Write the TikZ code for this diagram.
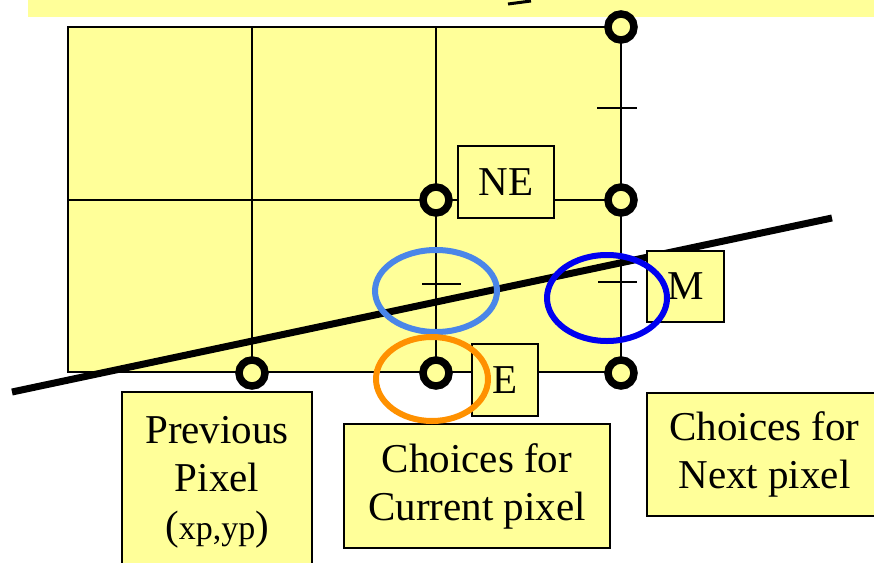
\documentclass[tikz,border=0pt]{standalone}
\usepackage{fontspec}
\setmainfont{Liberation Serif}
\definecolor{yel}{RGB}{255,255,153}
\definecolor{lblue}{RGB}{74,134,232}
\definecolor{dblue}{RGB}{0,0,240}
\definecolor{orng}{RGB}{255,145,0}
\begin{document}
\begin{tikzpicture}[x=1pt,y=-1pt,
  lbl/.style={draw, fill=yel, line width=1.5pt, inner sep=0pt, align=center, font=\fontsize{41}{48}\selectfont},
  dotnode/.style={circle, draw, fill=yel, line width=7.5pt, minimum size=26pt, inner sep=0pt},
  gridline/.style={line width=1.5pt},
  tickmark/.style={line width=1.5pt},
  ring/.style={line width=6pt}]
\useasboundingbox (0,0) rectangle (874,562);
\fill[white] (0,0) rectangle (874,562);
% title banner (cut off)
\fill[yel] (28,0) rectangle (874,17);
\draw[line width=3pt] (508,4) -- (531,1);
% pixel grid
\fill[yel] (68,27) rectangle (621,372);
\draw[gridline] (68,27) rectangle (621,372);
\draw[gridline] (252,27) -- (252,372);
\draw[gridline] (436,27) -- (436,372);
\draw[gridline] (68,200) -- (621,200);
% tick marks (midpoints)
\draw[tickmark] (597,108) -- (637,108);
\draw[tickmark] (422,284) -- (461,284);
\draw[tickmark] (598,282) -- (637,282);
% the line
\coordinate (la) at (12,392);
\coordinate (lb) at (832,218);
\draw[line width=7pt] (la) -- (lb);
% pixel circles
\node[dotnode] (c1) at (621,27) {};
\node[dotnode] (c2) at (436,200) {};
\node[dotnode] (c3) at (621,200) {};
\node[dotnode] (c4) at (252,373) {};
\node[dotnode] (c5) at (436,373) {};
\node[dotnode] (c6) at (621,373) {};
% labels
\node[lbl, minimum width=96pt, minimum height=72pt] (ne) at (506,182) {NE};
\node[lbl, minimum width=77pt, minimum height=71pt] (m) at (685.5,286.5) {M};
\node[lbl, minimum width=66pt, minimum height=72pt] (e) at (505,380) {E};
\node[lbl, minimum width=190pt, minimum height=180pt] (prev) at (217,482) {Previous\\Pixel\\({\fontsize{34}{40}\selectfont xp,yp})};
\node[lbl, minimum width=266pt, minimum height=124pt] (cur) at (477,486) {Choices for\\Current pixel};
\node[lbl, minimum width=235pt, minimum height=123pt] (next) at (764.5,454.5) {Choices for\\Next pixel};
% highlight ellipses
\draw[lblue, ring] (436,291) ellipse [x radius=61pt, y radius=41pt];
\draw[dblue, ring] (607,298) ellipse [x radius=60pt, y radius=43pt];
\draw[orng, ring] (432,379) ellipse [x radius=56pt, y radius=42pt];
\end{tikzpicture}
\end{document}
